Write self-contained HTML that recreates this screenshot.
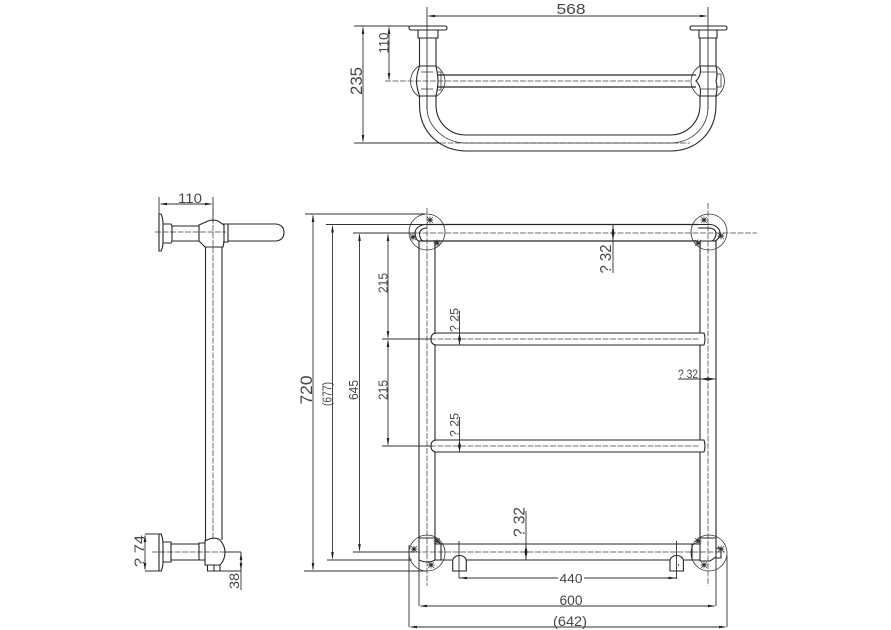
<!DOCTYPE html>
<html><head><meta charset="utf-8"><style>
html,body{margin:0;padding:0;background:#fff}
svg{display:block}
text{font-family:"Liberation Sans",sans-serif;fill:#474747;text-anchor:middle}
.o{fill:none;stroke:#262626;stroke-width:1.1}
.t{fill:none;stroke:#333;stroke-width:.8}
.d{fill:none;stroke:#303030;stroke-width:.9}
.c{fill:none;stroke:#707070;stroke-width:1;stroke-dasharray:6 1.5}
</style></head><body>
<svg width="891" height="630" viewBox="0 0 891 630" xmlns="http://www.w3.org/2000/svg">
<defs>
<marker id="a" markerUnits="userSpaceOnUse" viewBox="0 0 8 4" refX="6" refY="2" markerWidth="8" markerHeight="4" orient="auto-start-reverse"><path d="M8 2L0 .7V3.300Z" fill="#222"/></marker>
<g id="s"><circle r="1.800" fill="#555"/><path d="M-3 -3L3 3M-3 3L3 -3M0 -3.500V3.500M-3.500 0H3.500" stroke="#333" stroke-width=".7"/></g>
</defs>
<rect width="891" height="630" fill="#fff"/>

<!-- TOP VIEW -->
<path class="c" d="M385 81H690M440 143H690"/>
<path class="o" d="M409 27.500Q409 26 411 26H445Q447 26 447 27.500Q447 30 445 30H411Q409 30 409 27.500ZM418 30V38H438V30M419.500 38V66M436 38V66M419.500 66Q416.500 75 416.500 81Q416.500 87 419.500 96H436Q438 87 438 81Q438 75 436 66H419.500"/>
<path class="t" d="M421 72H433M421 89H433M419 66A18 18 0 0 0 419 96.500M436 66A18 18 0 0 1 445 81A18 18 0 0 1 436 96.500M437 72H441V90H437"/>
<path class="o" d="M438 75H696M438 87H696" style="stroke-width:1.300"/>
<path class="o" d="M419.500 96V105C419.500 132 440 151 467 151H670C697 151 716 132 716 105V96M436 96V105C436 122 449 135 466 135H670C687 135 700 122 700 105V96"/>
<path class="t" d="M427 96V107C427 127 445 143 466 143H670C692 143 708 127 708 107V96"/>
<path class="o" d="M690 27.500Q690 26 692 26H725Q727 26 727 27.500Q727 30 725 30H692Q690 30 690 27.500ZM699 30V38H717V30M700 38V66M716 38V66M700 66H716Q718 75 716 81Q718 87 716 96H700Q702 87 696 81Q702 75 700 66"/>
<path class="t" d="M701 72H716M701 89H716M700 66A18 18 0 0 0 691 81A18 18 0 0 0 700 96.500M716 66A18 18 0 0 1 716 96.500M716 74H721V87H716"/>
<path class="d" d="M427 7V110M708 7V110" />
<path class="d" d="M429 16H706" marker-start="url(#a)" marker-end="url(#a)"/>
<path class="d" d="M354 26H409M354 143H440"/>
<path class="d" d="M363 28V141" marker-start="url(#a)" marker-end="url(#a)"/>
<path class="d" d="M389 28V79" marker-start="url(#a)" marker-end="url(#a)"/>
<text x="571" y="14" font-size="15" textLength="29" lengthAdjust="spacingAndGlyphs">568</text>
<text transform="translate(362 81) rotate(-90)" font-size="17" textLength="28" lengthAdjust="spacingAndGlyphs">235</text>
<text transform="translate(388.500 43) rotate(-90)" font-size="14" textLength="21" lengthAdjust="spacingAndGlyphs">110</text>

<!-- SIDE VIEW -->
<path class="c" d="M155 232H226M213 210V538M152 552H225"/>
<path class="d" d="M159 197V215M213 197V222"/>
<path class="d" d="M161 204H211" marker-start="url(#a)" marker-end="url(#a)"/>
<path class="o" d="M159 214H161Q163 218 163 224V241Q163 248 161 251H159ZM163 224H171L172 226V241L171 243H163M172 226H199M172 241H199M199 225L208 221Q213 219 218 221L224 225V242L223 247H205L199 241Z"/>
<path class="o" d="M223 224H228V242H223M228 224H276Q284 225 284 232.500Q284 240 276 241H228M205.500 247V534M222 247V534"/>
<path class="o" d="M159 534H161Q163 538 163 544V561Q163 568 161 571H159ZM163 542H171V562H163M171 544H199M171 560H199M199 543H205V560H199ZM205.500 534V541M222 534V540M205 541Q214 536 220 540Q225 546 225 552Q225 560 220 565H205ZM207.500 565V571H220V565M214 565V571"/>
<path class="d" d="M145 534H162M145 571H162M225 552H241M207 571H241M241 552V590"/>
<path class="d" d="M145 536V569" marker-start="url(#a)" marker-end="url(#a)"/>
<path class="d" d="M241 554V569" marker-start="url(#a)" marker-end="url(#a)"/>
<text x="190" y="203" font-size="13.500" textLength="24" lengthAdjust="spacingAndGlyphs">110</text>
<text transform="translate(144 551) rotate(-90)" font-size="13.500" textLength="32" lengthAdjust="spacingAndGlyphs">? 74</text>
<text transform="translate(239 581) rotate(-90)" font-size="13.500" textLength="16" lengthAdjust="spacingAndGlyphs">38</text>

<!-- FRONT VIEW centre lines -->
<path class="c" d="M427 208V586M708 203V586M415 233H757M415 339H700M415 446H700M415 552H725"/>

<!-- FRONT VIEW pipes -->
<path class="o" d="M419 248V538M435 248V333M435 345V440M435 452V538M700 248V333M700 345V440M700 452V538M716 248V538"/>
<path class="o" d="M427 224.500H698M419 241H698" style="stroke-width:1.300"/>
<path class="o" d="M437 333H704Q706 339 704 345H437Q431 345 431 339Q431 333 437 333ZM437 440H704Q706 446 704 452H437Q431 452 431 446Q431 440 437 440Z"/>
<path class="o" d="M435 544H700M435 560H452M466 560H670M683 560H692"/>

<!-- top-left joint -->
<circle class="t" cx="427" cy="232" r="18"/>
<path class="o" d="M419 248V241H435V248M427 224.500C419 224.500 415 229 415 233C415 237 417 241 419 241M427 228C423 228 419.500 230 419.500 234C419.500 237 421 241 424 241"/>
<use href="#s" x="430" y="220"/><use href="#s" x="413" y="237"/><use href="#s" x="437" y="243"/>
<!-- top-right joint -->
<circle class="t" cx="709" cy="232" r="18"/>
<path class="o" d="M700 248V241H716V248M698 224.500H709C716 224.500 720 229 720 233C720 237 717 241 714 241M698 228H708C713 228 716 230 716 234C716 237 714 241 711 241"/>
<use href="#s" x="704" y="220"/><use href="#s" x="721" y="236"/><use href="#s" x="698" y="243"/>
<!-- bottom-left joint -->
<circle class="t" cx="427" cy="553" r="18"/>
<path class="o" d="M419 538H435L441 544V560H435Q428 564 419 560V538M435 538V560"/>
<use href="#s" x="414" y="549"/><use href="#s" x="431" y="565"/><use href="#s" x="437" y="541"/>
<!-- bottom-right joint -->
<circle class="t" cx="709" cy="553" r="18"/>
<path class="o" d="M700 538H716V557L710 561H700ZM692 544H700V560H692ZM716 548H721V558H716"/>
<use href="#s" x="698" y="541"/><use href="#s" x="721" y="549"/><use href="#s" x="704" y="565"/>
<!-- hangers -->
<path class="o" d="M452.700 571V561A6.800 5.500 0 0 1 466.300 561V571ZM670 571V561A6.700 5.500 0 0 1 683.400 561V571Z"/>
<circle cx="678.500" cy="565" r=".7" fill="#222"/>

<!-- FRONT dimensions -->
<path class="d" d="M305 214H425M326 224.500H427M353 233H415M382 339H431M382 446H431M353 552H415M327 560H412M304 571H427"/>
<path class="d" d="M313 216V569" marker-start="url(#a)" marker-end="url(#a)"/>
<path class="d" d="M332.500 226.500V558" marker-start="url(#a)" marker-end="url(#a)"/>
<path class="d" d="M359.500 235V550" marker-start="url(#a)" marker-end="url(#a)"/>
<path class="d" d="M388 235V337" marker-start="url(#a)" marker-end="url(#a)"/>
<path class="d" d="M388 341V444" marker-start="url(#a)" marker-end="url(#a)"/>
<path class="d" d="M459.500 311V345M459.500 417V452M613 224.500V273M526 511V560"/>
<path d="M458 339L459.500 334L461 339L459.500 344ZM458 446L459.500 441L461 446L459.500 451ZM611.500 233L613 225.500L614.500 233L613 240ZM524.500 552L526 545L527.500 552L526 559ZM700 379L708 377.500L716 379L708 380.500Z" fill="#222"/>
<path class="d" d="M678 379H716"/>
<path class="d" d="M459 541V578M676.500 541V579"/>
<path class="d" d="M459 578H558M584 578H676.500" />
<path d="M459 578L467 576.700V579.300ZM676.500 578L668.500 576.700V579.300Z" fill="#222"/>
<path class="d" d="M419 540V606M716 552V606M409 545V627M727 555V627"/>
<path class="d" d="M421 606H714" marker-start="url(#a)" marker-end="url(#a)"/>
<path class="d" d="M411 627H725" marker-start="url(#a)" marker-end="url(#a)"/>

<text transform="translate(312 390) rotate(-90)" font-size="16.500" textLength="29" lengthAdjust="spacingAndGlyphs">720</text>
<text transform="translate(331.500 394) rotate(-90)" font-size="12.500" textLength="24" lengthAdjust="spacingAndGlyphs">(677)</text>
<text transform="translate(358 390) rotate(-90)" font-size="12.500" textLength="20" lengthAdjust="spacingAndGlyphs">645</text>
<text transform="translate(387.500 283) rotate(-90)" font-size="12.500" textLength="20" lengthAdjust="spacingAndGlyphs">215</text>
<text transform="translate(387.500 390) rotate(-90)" font-size="12.500" textLength="20" lengthAdjust="spacingAndGlyphs">215</text>
<text transform="translate(458.500 320) rotate(-90)" font-size="12" textLength="24" lengthAdjust="spacingAndGlyphs">? 25</text>
<text transform="translate(458.500 425) rotate(-90)" font-size="12" textLength="24" lengthAdjust="spacingAndGlyphs">? 25</text>
<text transform="translate(611 259) rotate(-90)" font-size="15.500" textLength="29" lengthAdjust="spacingAndGlyphs">? 32</text>
<text transform="translate(524.500 522) rotate(-90)" font-size="15.500" textLength="30" lengthAdjust="spacingAndGlyphs">? 32</text>
<text x="688" y="378" font-size="12" textLength="20" lengthAdjust="spacingAndGlyphs">? 32</text>
<text x="571" y="583" font-size="13" textLength="23" lengthAdjust="spacingAndGlyphs">440</text>
<text x="571" y="605" font-size="13.500" textLength="23" lengthAdjust="spacingAndGlyphs">600</text>
<text x="570" y="626" font-size="13.500" textLength="34" lengthAdjust="spacingAndGlyphs">(642)</text>
</svg>
</body></html>
